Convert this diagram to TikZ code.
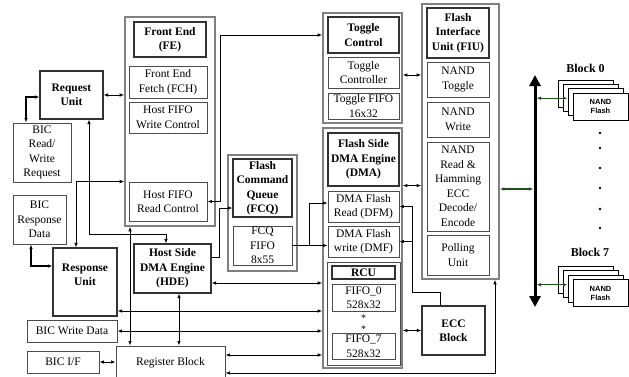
\documentclass[tikz,border=0pt]{standalone}
\usepackage{fontspec}
\setmainfont{Liberation Serif}
\newfontfamily\nandfont{Liberation Sans}
\usepackage{tikz}
\usetikzlibrary{arrows.meta,calc}

\begin{document}
\begin{tikzpicture}[x=1pt, y=-1pt, >={Latex[length=4.5pt,width=3.5pt]},
    every node/.style={font=\fontsize{11.5}{14.5}\selectfont, align=center, inner sep=0pt},
    box/.style={draw=black!70, line width=0.9pt},
    headbox/.style={draw=black!80, line width=1.1pt, font=\fontsize{11.5}{14.5}\selectfont\bfseries},
    outerbox/.style={draw=gray, line width=1.6pt},
    flashbox/.style={draw=black, line width=0.9pt, fill=white, minimum width=55pt, minimum height=27pt},
    blklabel/.style={font=\fontsize{12}{14}\selectfont\bfseries},
    conn/.style={line width=0.8pt},
    bus/.style={line width=3pt, {Triangle[width=11pt,length=11pt]}-{Triangle[width=11pt,length=11pt]}},
    greenlink/.style={line width=1.2pt, draw={rgb,255:red,30;green,80;blue,30}, <->}]
    \useasboundingbox (0,0) rectangle (629,376);
    \fill[white] (0,0) rectangle (629,376);
    \clip (0,0) rectangle (629,376);

    % Front End (FE)
    \node[outerbox, minimum width=90pt, minimum height=209pt] (fe) at (170,121.5) {};
    \node[headbox, minimum width=72pt, minimum height=35pt] (fehead) at (170,39.5) {Front End\\(FE)};
    \node[box, minimum width=78pt, minimum height=32pt] (fch) at (168,82) {Front End\\Fetch (FCH)};
    \node[box, minimum width=78pt, minimum height=31pt] (hfwc) at (168,117.5) {Host FIFO\\Write Control};
    \node[box, minimum width=78pt, minimum height=39pt] (hfrc) at (168,201.5) {Host FIFO\\Read Control};

    % BIC side
    \node[headbox, minimum width=63pt, minimum height=48pt] (req) at (71.5,95) {Request\\Unit};
    \node[box, minimum width=58pt, minimum height=59pt] (bicrw) at (42,152.5) {BIC\\Read/\\Write\\Request};
    \node[box, minimum width=53pt, minimum height=49pt] (bicrd) at (39.5,219.5) {BIC\\Response\\Data};
    \node[headbox, minimum width=64pt, minimum height=68pt,
          label={[yshift=7pt, font=\fontsize{11.5}{14.5}\selectfont\bfseries, align=center]center:Response\\Unit}] (resp) at (85,282) {};
    \node[headbox, minimum width=77pt, minimum height=49pt] (hde) at (172.5,268.5) {Host Side\\DMA Engine\\(HDE)};
    \node[box, minimum width=90pt, minimum height=22pt] (bicwd) at (72,331) {BIC Write Data};
    \node[box, minimum width=72pt, minimum height=22pt] (bicif) at (63,362) {BIC I/F};
    \node[box, minimum width=109pt, minimum height=34pt] (reg) at (170.5,363) {Register Block};

    % Flash Command Queue (FCQ)
    \node[outerbox, minimum width=69pt, minimum height=116pt] (fcq) at (262.5,213) {};
    \node[headbox, minimum width=59pt, minimum height=58pt] (fcqhead) at (262.5,188) {Flash\\Command\\Queue\\(FCQ)};
    \node[box, minimum width=59pt, minimum height=39pt] (fcqfifo) at (262.5,245.5) {FCQ\\FIFO\\8x55};

    % Toggle Control
    \node[outerbox, minimum width=79pt, minimum height=110pt] (tgl) at (362.5,68) {};
    \node[headbox, minimum width=71pt, minimum height=36pt] (tglhead) at (363.5,35) {Toggle\\Control};
    \node[box, minimum width=71pt, minimum height=31pt] (tglctl) at (363.5,72.5) {Toggle\\Controller};
    \node[box, minimum width=71pt, minimum height=26pt] (tglfifo) at (363.5,106) {Toggle FIFO\\16x32};

    % Flash Side DMA Engine (DMA)
    \node[outerbox, minimum width=79pt, minimum height=240pt] (dma) at (362.5,248) {};
    \node[headbox, minimum width=71pt, minimum height=53pt] (dmahead) at (363.5,159.5) {Flash Side\\DMA Engine\\(DMA)};
    \node[box, minimum width=71pt, minimum height=31pt] (dfm) at (363.5,206.5) {DMA Flash\\Read (DFM)};
    \node[box, minimum width=71pt, minimum height=31pt] (dmf) at (363.5,241.5) {DMA Flash\\write (DMF)};
    \node[box, minimum width=73pt, minimum height=103pt] (rcu) at (363.5,313.5) {};
    \node[headbox, minimum width=63pt, minimum height=13pt] (rcuhead) at (363.5,272.5) {RCU};
    \node[box, minimum width=63pt, minimum height=27pt] (fifo0) at (363.5,297.5) {FIFO\_0\\528x32};
    \node[font=\fontsize{10}{11}\selectfont] (stars) at (363.5,324) {*\\*};
    \node[box, minimum width=63pt, minimum height=26pt] (fifo7) at (363.5,346) {FIFO\_7\\528x32};

    % Flash Interface Unit (FIU)
    \node[outerbox, minimum width=77pt, minimum height=275pt] (fiu) at (460.5,141.5) {};
    \node[headbox, minimum width=62pt, minimum height=50pt] (fiuhead) at (458,33) {Flash\\Interface\\Unit (FIU)};
    \node[box, minimum width=62pt, minimum height=35pt] (ntgl) at (458,79.5) {NAND\\Toggle};
    \node[box, minimum width=62pt, minimum height=35pt] (nwr) at (458,119.5) {NAND\\Write};
    \node[box, minimum width=62pt, minimum height=89pt] (nrd) at (458,186.5) {NAND\\Read \&\\Hamming\\ECC\\Decode/\\Encode};
    \node[box, minimum width=62pt, minimum height=40pt] (poll) at (458,255) {Polling\\Unit};
    \node[headbox, minimum width=63pt, minimum height=49pt] (ecc) at (453.5,330.5) {ECC\\Block};

    % Flash bus and NAND blocks
    \coordinate (bustop) at (535,75);
    \coordinate (busbot) at (535,307);
    \draw[bus] (bustop) -- (busbot);
    \node[blklabel] (lbl0) at (585.5,68) {Block 0};
    \node[blklabel] (lbl7) at (590,252) {Block 7};
    \foreach \i/\dx/\dy in {a/-15/-13, b/-10/-8.7, c/-5/-4.3}{
        \node[flashbox] (blk0\i) at (600.5+\dx,106.5+\dy) {};
        \node[flashbox] (blk7\i) at (600.5+\dx,293+\dy) {};
    }
    \node[flashbox, font=\nandfont\fontsize{7.5}{9}\selectfont\bfseries] (blk0d) at (600.5,106.5) {NAND\\Flash};
    \node[flashbox, font=\nandfont\fontsize{7.5}{9}\selectfont\bfseries] (blk7d) at (600.5,293) {NAND\\Flash};
    \foreach \y in {133,148,168,188,209,228}
        \fill (600,\y) circle (1.4pt);

    % BIC side links
    \draw[conn, <->] (req.east) -- (req.east -| fe.west);
    \draw[line width=1.3pt, <->] ([yshift=-2pt]req.west) -| ([xshift=-16pt]bicrw.north);
    \draw[line width=1.3pt, <->] ([xshift=-8.5pt]bicrd.south) |- ([yshift=16pt]resp.west);
    \draw[conn, <->] ([xshift=-9pt]resp.north) |- (hfrc.north -| fe.west);
    \draw[conn, <->] ([xshift=17.5pt]req.south) -- ++(0,115) -| ([xshift=-6.5pt]hde.north);
    \draw[conn, <->] ([xshift=-40pt]fe.south) -- ([xshift=-40pt]fe.south |- reg.north);
    \draw[conn, <->] ([xshift=6.5pt]hde.south) -- ([xshift=6.5pt]hde.south |- reg.north);
    \draw[conn, <->] (bicif.east) -- (bicif.east -| reg.west);

    % Links into the DMA column
    \draw[conn, <->] ([yshift=-14.5pt]hde.east) -- ([yshift=-14.5pt]hde.east -| dma.west);
    \draw[conn, <->] ([yshift=-29pt]resp.east) -- ([yshift=-29pt]resp.east -| dma.west);
    \draw[conn, <->] (bicwd.east) -- (bicwd.east -| dma.west);
    \draw[conn, <->] ([yshift=8pt]reg.east) -- ([yshift=8pt]reg.east -| dma.west);
    \draw[conn, <->] ([yshift=-10pt]reg.east) -| ([xshift=34.5pt]fiu.south);

    % Command path
    \draw[conn, <->] (hfrc.east) -- ++(13,0) |- (tglhead.west -| tgl.west);
    \draw[conn, ->] ([yshift=11.5pt]hde.east) -- ++(8,0) |- ([yshift=-20pt]fcqhead.west);
    \draw[conn] (fcqfifo.east) -- ++(17,0) coordinate (fsplit);
    \draw[conn, ->] (fsplit) -- (fsplit -| dmf.west);
    \draw[conn, ->] (fsplit) |- ([yshift=3.5pt]dfm.west);

    % ECC block
    \draw[conn, ->] ([xshift=-13.5pt]ecc.north) -- ++(0,-13) -| ([xshift=-9pt]ecc.west |- dfm.east) -- (dfm.east);
    \draw[conn, ->] ([xshift=-9pt]ecc.west |- dmf.east) -- (dmf.east);
    \draw[conn, <->] (ecc.west) -- (ecc.west -| dma.east);

    % Links to the FIU
    \draw[conn, <->] ([yshift=-7pt]tgl.east) -- ([yshift=-7pt]tgl.east -| fiu.west);
    \draw[conn, <->] ([yshift=5pt]dfm.north -| dma.east) -- ([yshift=5pt]dfm.north -| fiu.west);
    \draw[greenlink, shorten >=1.5pt] ([yshift=-47.5pt]fiu.east) -- ([yshift=-47.5pt]fiu.east -| bustop);
    \draw[greenlink, shorten <=1.5pt] ([yshift=4pt]blk0c.west -| bustop) -- ([yshift=4pt]blk0c.west);
    \draw[greenlink, shorten <=1.5pt] ([yshift=4pt]blk7c.west -| bustop) -- ([yshift=4pt]blk7c.west);
\end{tikzpicture}
\end{document}
